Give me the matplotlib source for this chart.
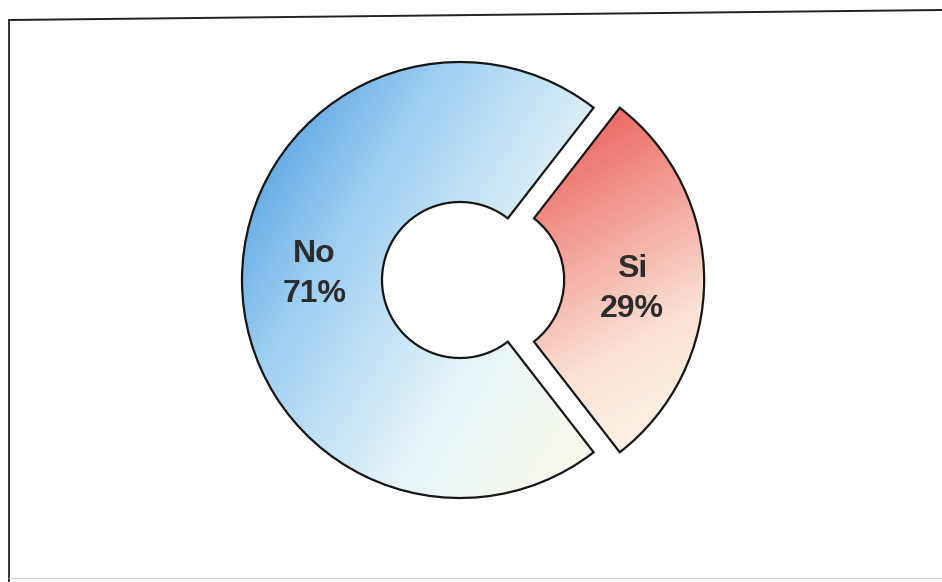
import numpy as np
import matplotlib.pyplot as plt
from matplotlib.colors import LinearSegmentedColormap
from matplotlib.lines import Line2D

# Answers to the yes/no question
labels = ["No", "Si"]
values = [71, 29]
explode = [0.0, 0.12]   # fraction of the outer radius

# Gradient fills, one per wedge: (colours, direction in screen x/down)
fills = [
    (["#3f92dc", "#9fd0f2", "#e6f4f9", "#fdfbe9"], (1.0, 0.6)),
    (["#ea5550", "#f29a92", "#fbe2d5", "#fdf8e6"], (0.55, 1.0)),
]

W, H = 942, 582
cx, cy = 460, H - 280
r_out, r_in = 218, 78

plt.rcParams['font.family'] = ['Liberation Sans', 'DejaVu Sans']

fig = plt.figure(figsize=(W / 100, H / 100), dpi=100)
fig.patch.set_facecolor("white")
ax = fig.add_axes([0, 0, 1, 1])

names = iter(labels)
wedges, texts, autotexts = ax.pie(
    values, explode=[e * r_out for e in explode],
    startangle=180 * values[1] / 100,
    radius=r_out, center=(cx, cy), counterclock=True,
    autopct=lambda p: "%s\n%.0f%%" % (next(names), p),
    pctdistance=(1 + r_in / r_out) / 2 - 0.01,
    wedgeprops=dict(width=r_out - r_in, facecolor="none",
                    edgecolor="#151515", linewidth=1.6),
    textprops=dict(fontsize=23, fontweight="bold", color="#2c2c2c",
                   linespacing=1.4),
    frame=True)

ax.set_xlim(0, W)
ax.set_ylim(0, H)
ax.set_aspect("equal")
ax.axis("off")

# Gradient image clipped to each wedge
for w, (cols, (dx, dy)) in zip(wedges, fills):
    w.set_zorder(3)
    bb = w.get_path().get_extents()
    x0, y0, x1, y1 = bb.x0, bb.y0, bb.x1, bb.y1
    xs = np.linspace(x0, x1, 200)
    ys = np.linspace(y0, y1, 200)
    X, Y = np.meshgrid(xs, ys)
    t = (X - x0) * dx + (y1 - Y) * dy
    t = (t - t.min()) / (t.max() - t.min())
    cmap = LinearSegmentedColormap.from_list("g", cols)
    im = ax.imshow(t, extent=[x0, x1, y0, y1], origin="lower", cmap=cmap,
                   interpolation="bilinear", zorder=2, aspect="auto")
    im.set_clip_path(w)

# labels sit a little off the ring centre line
autotexts[0].set_y(autotexts[0].get_position()[1] + 6)
autotexts[1].set_y(autotexts[1].get_position()[1] - 9)
for t in autotexts:
    t.set_zorder(5)

ax.set_xlim(0, W)
ax.set_ylim(0, H)

# Frame around the chart
fig.add_artist(Line2D([10 / W, 1.0], [1 - 20 / H, 1 - 10 / H],
                      color="#222222", linewidth=1.4))
fig.add_artist(Line2D([9 / W, 9 / W], [0, 1 - 20 / H],
                      color="#333333", linewidth=1.4))
fig.add_artist(Line2D([9 / W, 1.0], [4 / H, 4 / H],
                      color="#cfcfcf", linewidth=0.8))

fig.savefig("out.png", dpi=100)
